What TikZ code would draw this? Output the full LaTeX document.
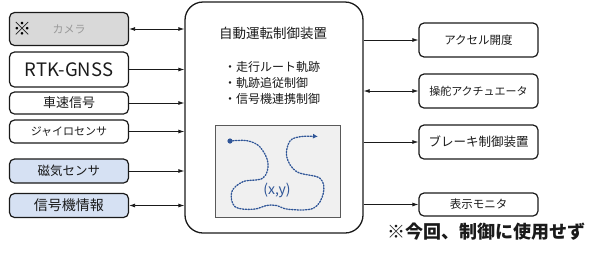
\documentclass[tikz,border=0pt]{standalone}
\usepackage{fontspec}
\setmainfont{Noto Sans CJK JP}
\usetikzlibrary{arrows.meta}
\definecolor{bluefill}{HTML}{D6E1F3}
\definecolor{grayfill}{HTML}{D9D9D9}
\definecolor{pathblue}{HTML}{2F5597}
\definecolor{innerfill}{HTML}{F0F0F0}
\definecolor{ink}{HTML}{1A1A1A}
\newcommand{\fs}[1]{\fontsize{#1}{#1}\selectfont}
\tikzset{
  sidebox/.style={draw=ink, line width=1.2pt, rounded corners=5pt, minimum width=119pt, inner sep=0pt, text=ink},
  mainbox/.style={draw=ink, line width=1.3pt, rounded corners=18pt, inner sep=0pt},
  conn/.style={draw=ink, line width=0.8pt, -{Latex[length=6pt,width=4pt]}},
  conn2/.style={draw=ink, line width=0.8pt, {Latex[length=6pt,width=4pt]}-{Latex[length=6pt,width=4pt]}},
  txt/.style={inner sep=0pt, text=ink},
  trail/.style={draw=pathblue, line width=1.3pt, dash pattern=on 1.3pt off 1.5pt, line cap=round},
}
\begin{document}
\begin{tikzpicture}[x=1pt,y=-1pt]
\useasboundingbox (0,0) rectangle (600,258);

% main box
\node[mainbox, minimum width=178pt, minimum height=231pt] (main) at (274,117.5) {};
\node[txt, font=\fs{13.5}] (title) at (273,33) {自動運転制御装置};
\node[txt, font=\fs{12}, anchor=west] (b1) at (224,67) {・走行ルート軌跡};
\node[txt, font=\fs{12}, anchor=west] (b2) at (224,83) {・軌跡追従制御};
\node[txt, font=\fs{12}, anchor=west] (b3) at (224,99) {・信号機連携制御};

% inner picture
\node[draw=black!65, line width=1pt, fill=innerfill, minimum width=125pt, minimum height=92pt, inner sep=0pt] (inner) at (277.5,171) {};
\draw[trail, -{Latex[length=5pt,width=5pt]}] plot[smooth, tension=0.6] coordinates {
 (230,141) (247,140.7) (260,147) (268,163) (263,178) (243,181.7) (231.7,192) (235,206.7)
 (253,209.3) (266.7,205.5) (276.7,205.5) (288.3,209.3) (313.3,208.3) (323.3,193.3)
 (320,178.3) (296.7,171.7) (286.7,156.7) (290,141) (301.7,136.5) (318,136.5)};
\fill[pathblue] (230,141) circle (2.6pt);
\node[txt, text=pathblue, font=\fs{14}] (xy) at (277,190) {(x,y)};

% left boxes
\node[sidebox, fill=grayfill, minimum height=33pt, text=black!40, font=\fs{11}] (cam) at (69,29) {カメラ};
\node[txt, text=black, font=\fs{18}\bfseries] (kome) at (22,29) {※};
\node[sidebox, minimum height=35pt, font=\fs{18.5}] (rtk) at (69,69.5) {RTK-GNSS};
\node[sidebox, minimum height=22pt, font=\fs{13}] (spd) at (69,103) {車速信号};
\node[sidebox, minimum height=23pt, font=\fs{11}] (gyro) at (69,131.5) {ジャイロセンサ};
\node[sidebox, fill=bluefill, minimum height=24pt, font=\fs{12.5}] (mag) at (69,171) {磁気センサ};
\node[sidebox, fill=bluefill, minimum height=24pt, font=\fs{14}] (sig) at (69,205.5) {信号機情報};

\draw[conn2] (cam.east) -- (cam.east -| main.west);
\draw[conn] (rtk.east) -- (rtk.east -| main.west);
\draw[conn] (spd.east) -- (spd.east -| main.west);
\draw[conn] (gyro.east) -- (gyro.east -| main.west);
\draw[conn] (mag.east) -- (mag.east -| main.west);
\draw[conn2] (sig.east) -- (sig.east -| main.west);

% right boxes
\node[sidebox, minimum height=34pt, font=\fs{11.5}] (acc) at (478.5,40) {アクセル開度};
\node[sidebox, minimum height=34pt, font=\fs{11}] (str) at (478.5,91) {操舵アクチュエータ};
\node[sidebox, minimum height=34pt, font=\fs{12.5}] (brk) at (478.5,142) {ブレーキ制御装置};
\node[sidebox, minimum height=23pt, font=\fs{11.5}] (mon) at (478.5,204.5) {表示モニタ};

\draw[conn] (acc.west -| main.east) -- (acc.west);
\draw[conn2] (str.west -| main.east) -- (str.west);
\draw[conn] (brk.west -| main.east) -- (brk.west);
\draw[conn] (mon.west -| main.east) -- (mon.west);

% note
\node[txt, font=\fs{18}\bfseries] (note) at (486,232) {※今回、制御に使用せず};
\end{tikzpicture}
\end{document}
